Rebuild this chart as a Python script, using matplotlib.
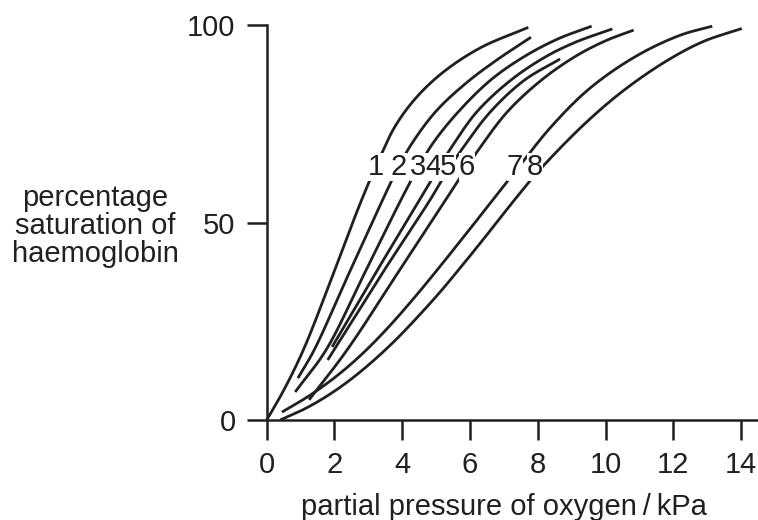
import matplotlib
matplotlib.use("Agg")
import matplotlib.pyplot as plt
import numpy as np

plt.rcParams['font.family'] = ['Liberation Sans', 'DejaVu Sans']
INK = '#231f20'

# points: partial pressure (kPa), % saturation
curve1_x = [0.0, 0.5, 1.08, 1.9, 2.80, 3.39, 3.8, 4.4, 5.2, 6.3, 7.72]
curve1_y = [0.0, 7.5, 17.7, 35.5, 55.7, 67.4, 74.5, 81.5, 88.0, 94.2, 99.4]
curve2_x = [0.92, 1.40, 2.4, 3.42, 3.85, 4.3, 5.0, 5.9, 6.8, 7.8]
curve2_y = [10.6, 17.7, 36.6, 55.7, 63.5, 70.2, 78.2, 85.4, 91.2, 96.9]
curve3_x = [0.84, 1.75, 2.85, 3.96, 4.43, 4.9, 5.6, 6.6, 7.6, 8.6, 9.59]
curve3_y = [7.1, 17.7, 36.5, 55.7, 63.3, 70.0, 77.5, 86.0, 92.0, 96.5, 99.7]
curve4_x = [1.93, 3.2, 4.51, 5.0, 5.45, 6.2, 7.2, 8.2, 9.1, 10.2]
curve4_y = [18.5, 37.0, 55.7, 62.8, 69.0, 78.0, 86.0, 91.8, 95.6, 99.0]
curve5_x = [1.80, 3.40, 4.82, 5.35, 5.8, 6.6, 7.6, 8.66]
curve5_y = [15.2, 37.0, 55.7, 63.3, 69.0, 78.0, 86.0, 91.4]
curve6_x = [1.25, 2.37, 3.85, 5.28, 5.85, 6.3, 7.1, 8.1, 9.1, 10.0, 10.83]
curve6_y = [5.1, 17.7, 37.0, 55.7, 63.3, 69.0, 78.0, 86.0, 92.0, 96.0, 98.7]
curve7_x = [0.45, 1.0, 1.5, 2.0, 2.5, 3.05, 3.7, 4.4, 5.0, 5.71, 6.59, 7.32, 8.37, 9.54, 10.92, 12.2, 13.15]
curve7_y = [2.0, 4.75, 7.55, 10.7, 14.25, 18.65, 24.5, 31.4, 37.65, 45.25, 54.8, 62.7, 74.0, 84.0, 92.2, 97.4, 99.7]
curve8_x = [0.40, 1.0, 1.5, 2.0, 2.5, 3.0, 3.5, 4.0, 5.0, 5.71, 6.5, 7.33, 8.0, 9.35, 10.53, 11.8, 12.88, 14.02]
curve8_y = [0.0, 2.3, 4.6, 7.3, 10.4, 13.9, 17.75, 21.95, 31.25, 38.5, 46.9, 55.9, 62.8, 74.7, 83.4, 90.9, 95.8, 99.1]

curves = [(curve1_x, curve1_y), (curve2_x, curve2_y), (curve3_x, curve3_y),
          (curve4_x, curve4_y), (curve5_x, curve5_y), (curve6_x, curve6_y),
          (curve7_x, curve7_y), (curve8_x, curve8_y)]

label_text = ['1', '2', '3', '4', '5', '6', '7', '8']
label_x = [3.23, 3.88, 4.47, 4.91, 5.35, 5.91, 7.33, 7.92]
label_y = 64.0

x_ticks = [0, 2, 4, 6, 8, 10, 12, 14]
y_ticks = [0, 50, 100]


def smooth(x, y, n=24, sx=33.9, sy=3.95):
    # centripetal catmull-rom through the read points (in pixel-ish units)
    pts = np.column_stack([np.asarray(x) * sx, np.asarray(y) * sy])
    p = np.vstack([2 * pts[0] - pts[1], pts, 2 * pts[-1] - pts[-2]])
    out = []
    for i in range(1, len(p) - 2):
        p0, p1, p2, p3 = p[i - 1], p[i], p[i + 1], p[i + 2]
        t0 = 0.0
        t1 = t0 + np.linalg.norm(p1 - p0) ** 0.5
        t2 = t1 + np.linalg.norm(p2 - p1) ** 0.5
        t3 = t2 + np.linalg.norm(p3 - p2) ** 0.5
        t = np.linspace(t1, t2, n, endpoint=False)[:, None]
        a1 = (t1 - t) / (t1 - t0) * p0 + (t - t0) / (t1 - t0) * p1
        a2 = (t2 - t) / (t2 - t1) * p1 + (t - t1) / (t2 - t1) * p2
        a3 = (t3 - t) / (t3 - t2) * p2 + (t - t2) / (t3 - t2) * p3
        b1 = (t2 - t) / (t2 - t0) * a1 + (t - t0) / (t2 - t0) * a2
        b2 = (t3 - t) / (t3 - t1) * a2 + (t - t1) / (t3 - t1) * a3
        out.append((t2 - t) / (t2 - t1) * b1 + (t - t1) / (t2 - t1) * b2)
    out.append(pts[-1:])
    s = np.vstack(out)
    return s[:, 0] / sx, s[:, 1] / sy


fig = plt.figure(figsize=(7.58, 5.20), dpi=100)
ax = fig.add_axes([266.7 / 758, 100 / 520, 491.3 / 758, 395 / 520])

for cx, cy in curves:
    sx, sy = smooth(cx, cy)
    ax.plot(sx, sy, color=INK, lw=2.0, solid_capstyle='butt', clip_on=False, zorder=2)

for txt, lx in zip(label_text, label_x):
    ax.text(lx, label_y, txt, fontsize=21, color=INK, ha='center', va='center', zorder=3,
            bbox=dict(facecolor='white', edgecolor='none', pad=0.2))

ax.set_xlim(0, 14.5)
ax.set_ylim(0, 100)
ax.spines[['top', 'right']].set_visible(False)
for side in ['left', 'bottom']:
    ax.spines[side].set_linewidth(1.8)
    ax.spines[side].set_color(INK)
ax.set_xticks(x_ticks)
ax.set_yticks(y_ticks)
ax.tick_params(axis='both', length=14.4, width=1.8, color=INK, labelcolor=INK, labelsize=21)
ax.tick_params(axis='x', pad=8)
ax.tick_params(axis='y', pad=8)

fig.text(504 / 758, 5 / 520, 'partial pressure of oxygen\u2009/\u2009kPa',
         fontsize=21, color=INK, ha='center', va='baseline')
fig.text(95 / 758, 1 - 226 / 520, 'percentage\nsaturation of\nhaemoglobin',
         fontsize=21, color=INK, ha='center', va='center', linespacing=1.0)

fig.savefig('out.png', dpi=100)
